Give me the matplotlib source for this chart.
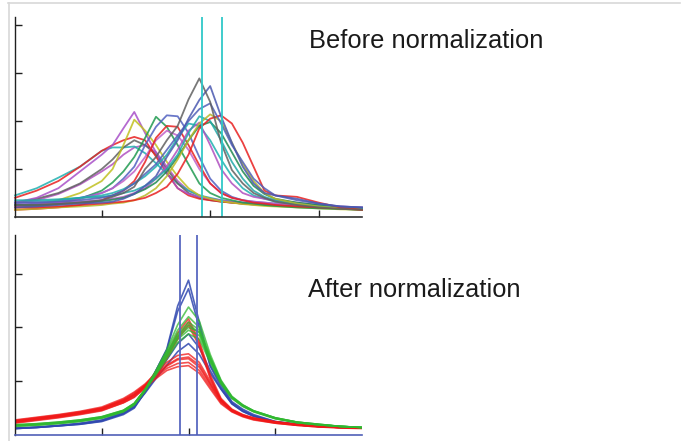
import numpy as np
import matplotlib
matplotlib.use("Agg")
import matplotlib.pyplot as plt
from matplotlib.lines import Line2D

# sample positions shared by the curves of each panel
x_top = [0, 4, 8, 12, 16, 18, 20, 22, 24, 26, 28, 30, 32, 34, 36, 38, 40, 42, 44, 46, 48, 52, 56, 60, 64]
x_bot = [0, 4, 8, 12, 16, 20, 22, 24, 26, 28, 30, 32, 34, 36, 38, 40, 42, 44, 48, 52, 56, 60, 64]

# before normalization : one curve per recording (colour, values)
before_curves = [
    ("#b050c0", [0.28, 0.35, 0.48, 0.68, 0.95, 1.1, 1.3, 1.45, 1.5, 1.35, 1.05, 0.75, 0.55, 0.45, 0.38, 0.33, 0.3, 0.28, 0.26, 0.25, 0.24, 0.22, 0.2, 0.18, 0.16]),
    ("#20b0b0", [0.45, 0.6, 0.82, 1.05, 1.38, 1.45, 1.45, 1.47, 1.33, 1.12, 0.9, 0.7, 0.55, 0.45, 0.4, 0.35, 0.32, 0.3, 0.28, 0.26, 0.25, 0.22, 0.2, 0.18, 0.17]),
    ("#606060", [0.3, 0.38, 0.5, 0.7, 1.0, 1.2, 1.45, 1.6, 1.5, 1.3, 1.0, 0.7, 0.5, 0.4, 0.35, 0.32, 0.3, 0.28, 0.26, 0.25, 0.24, 0.22, 0.2, 0.18, 0.16]),
    ("#e82020", [0.4, 0.55, 0.75, 1.05, 1.38, 1.5, 1.6, 1.67, 1.6, 1.26, 0.92, 0.6, 0.45, 0.38, 0.35, 0.32, 0.3, 0.28, 0.27, 0.26, 0.25, 0.22, 0.2, 0.18, 0.16]),
    ("#a850c8", [0.3, 0.4, 0.6, 0.95, 1.3, 1.5, 1.85, 2.19, 1.75, 1.35, 0.92, 0.6, 0.48, 0.42, 0.38, 0.35, 0.32, 0.3, 0.28, 0.27, 0.25, 0.22, 0.2, 0.18, 0.17]),
    ("#c0c020", [0.2, 0.25, 0.35, 0.5, 0.75, 1.0, 1.5, 2.03, 1.8, 1.5, 1.15, 0.85, 0.6, 0.45, 0.38, 0.33, 0.3, 0.27, 0.25, 0.23, 0.22, 0.2, 0.18, 0.16, 0.15]),
    ("#209a50", [0.2, 0.22, 0.28, 0.38, 0.55, 0.72, 0.95, 1.25, 1.65, 2.09, 1.88, 1.5, 1.1, 0.7, 0.5, 0.4, 0.35, 0.3, 0.28, 0.25, 0.23, 0.2, 0.18, 0.17, 0.15]),
    ("#5060c0", [0.25, 0.28, 0.32, 0.4, 0.5, 0.6, 0.8, 1.05, 1.5, 1.88, 2.12, 2.1, 1.75, 1.25, 0.8, 0.55, 0.42, 0.35, 0.32, 0.3, 0.28, 0.25, 0.22, 0.2, 0.18]),
    ("#c060c8", [0.22, 0.25, 0.3, 0.38, 0.5, 0.6, 0.75, 0.95, 1.25, 1.6, 1.8, 1.7, 1.4, 1.0, 0.7, 0.5, 0.4, 0.35, 0.32, 0.3, 0.28, 0.25, 0.22, 0.2, 0.18]),
    ("#e82020", [0.15, 0.17, 0.2, 0.25, 0.35, 0.45, 0.55, 0.75, 1.15, 1.65, 1.9, 1.88, 1.5, 1.08, 0.7, 0.5, 0.4, 0.35, 0.3, 0.28, 0.25, 0.22, 0.2, 0.18, 0.15]),
    ("#20b0b0", [0.3, 0.32, 0.35, 0.4, 0.45, 0.5, 0.58, 0.7, 0.85, 1.05, 1.3, 1.65, 1.95, 1.9, 1.6, 1.2, 0.85, 0.6, 0.45, 0.38, 0.32, 0.28, 0.24, 0.2, 0.18]),
    ("#b050c0", [0.3, 0.3, 0.3, 0.32, 0.35, 0.38, 0.42, 0.5, 0.6, 0.8, 1.05, 1.4, 1.8, 1.97, 1.5, 1.0, 0.7, 0.5, 0.42, 0.38, 0.35, 0.3, 0.25, 0.22, 0.2]),
    ("#208850", [0.25, 0.25, 0.27, 0.3, 0.33, 0.36, 0.4, 0.48, 0.58, 0.72, 0.95, 1.25, 1.6, 1.9, 1.98, 1.75, 1.35, 0.95, 0.65, 0.48, 0.38, 0.3, 0.25, 0.2, 0.18]),
    ("#20a8a8", [0.35, 0.35, 0.37, 0.4, 0.42, 0.45, 0.5, 0.55, 0.65, 0.8, 1.0, 1.3, 1.75, 2.1, 2.0, 1.6, 1.15, 0.8, 0.55, 0.42, 0.35, 0.28, 0.22, 0.2, 0.18]),
    ("#b8b828", [0.15, 0.17, 0.2, 0.22, 0.25, 0.28, 0.3, 0.35, 0.45, 0.6, 0.85, 1.2, 1.6, 1.95, 2.14, 2.0, 1.55, 1.1, 0.75, 0.5, 0.38, 0.28, 0.22, 0.18, 0.15]),
    ("#e82020", [0.2, 0.2, 0.22, 0.25, 0.28, 0.3, 0.32, 0.35, 0.4, 0.5, 0.63, 0.9, 1.3, 1.85, 2.05, 2.12, 1.95, 1.55, 1.05, 0.55, 0.45, 0.42, 0.3, 0.2, 0.15]),
    ("#5060b8", [0.3, 0.3, 0.32, 0.35, 0.4, 0.45, 0.55, 0.7, 0.9, 1.1, 1.4, 1.7, 2.0, 2.25, 2.37, 1.95, 1.5, 1.15, 0.8, 0.6, 0.45, 0.35, 0.28, 0.22, 0.2]),
    ("#4a58b0", [0.2, 0.22, 0.25, 0.28, 0.3, 0.32, 0.38, 0.48, 0.65, 0.85, 1.25, 1.6, 2.05, 2.44, 2.73, 2.1, 1.55, 1.05, 0.7, 0.5, 0.45, 0.38, 0.28, 0.22, 0.2]),
    ("#606060", [0.25, 0.25, 0.27, 0.3, 0.35, 0.42, 0.5, 0.63, 1.0, 1.25, 1.6, 1.9, 2.45, 2.89, 2.4, 1.55, 0.98, 0.7, 0.5, 0.4, 0.32, 0.25, 0.2, 0.17, 0.15]),
]

# after normalization, grouped by colour
after_blue = [
    [0.12, 0.14, 0.17, 0.2, 0.25, 0.38, 0.5, 0.8, 1.2, 1.6, 2.4, 2.88, 2.1, 1.3, 0.95, 0.62, 0.48, 0.38, 0.25, 0.2, 0.17, 0.15, 0.13],
    [0.12, 0.14, 0.17, 0.2, 0.26, 0.4, 0.52, 0.82, 1.2, 1.58, 2.3, 2.72, 2.0, 1.28, 0.9, 0.6, 0.46, 0.36, 0.25, 0.2, 0.17, 0.15, 0.13],
    [0.12, 0.14, 0.17, 0.21, 0.27, 0.4, 0.52, 0.8, 1.08, 1.4, 1.7, 1.88, 1.62, 1.2, 0.86, 0.58, 0.44, 0.35, 0.24, 0.19, 0.16, 0.14, 0.13],
    [0.13, 0.15, 0.18, 0.22, 0.28, 0.42, 0.54, 0.78, 1.05, 1.3, 1.55, 1.7, 1.5, 1.15, 0.85, 0.58, 0.44, 0.35, 0.24, 0.19, 0.16, 0.14, 0.13],
]
after_red = [
    [0.27, 0.32, 0.37, 0.43, 0.5, 0.64, 0.75, 0.92, 1.18, 1.5, 1.9, 2.16, 1.75, 1.12, 0.68, 0.48, 0.38, 0.32, 0.25, 0.2, 0.17, 0.15, 0.13],
    [0.25, 0.3, 0.35, 0.41, 0.48, 0.62, 0.73, 0.9, 1.15, 1.45, 1.82, 2.1, 1.7, 1.08, 0.65, 0.46, 0.37, 0.31, 0.24, 0.2, 0.17, 0.15, 0.13],
    [0.23, 0.28, 0.33, 0.39, 0.46, 0.6, 0.7, 0.88, 1.12, 1.42, 1.78, 2.04, 1.65, 1.05, 0.64, 0.45, 0.36, 0.3, 0.24, 0.19, 0.16, 0.14, 0.13],
    [0.28, 0.33, 0.38, 0.44, 0.52, 0.68, 0.8, 0.95, 1.15, 1.35, 1.48, 1.51, 1.35, 1.0, 0.66, 0.47, 0.37, 0.31, 0.24, 0.19, 0.16, 0.14, 0.13],
    [0.26, 0.31, 0.36, 0.42, 0.5, 0.66, 0.78, 0.93, 1.12, 1.3, 1.42, 1.45, 1.3, 0.96, 0.64, 0.46, 0.36, 0.3, 0.23, 0.19, 0.16, 0.14, 0.13],
    [0.25, 0.3, 0.35, 0.41, 0.49, 0.65, 0.76, 0.92, 1.1, 1.28, 1.4, 1.42, 1.26, 0.94, 0.62, 0.45, 0.36, 0.3, 0.23, 0.19, 0.16, 0.14, 0.13],
    [0.24, 0.29, 0.34, 0.4, 0.47, 0.63, 0.74, 0.9, 1.08, 1.24, 1.33, 1.35, 1.2, 0.9, 0.6, 0.44, 0.35, 0.29, 0.22, 0.18, 0.15, 0.14, 0.13],
    [0.22, 0.27, 0.32, 0.38, 0.45, 0.6, 0.71, 0.88, 1.05, 1.2, 1.27, 1.29, 1.15, 0.86, 0.58, 0.43, 0.34, 0.28, 0.22, 0.18, 0.15, 0.13, 0.12],
]
after_green = [
    [0.18, 0.2, 0.23, 0.27, 0.33, 0.45, 0.58, 0.85, 1.2, 1.58, 2.05, 2.38, 2.12, 1.5, 1.02, 0.72, 0.56, 0.45, 0.32, 0.24, 0.2, 0.16, 0.14],
    [0.17, 0.19, 0.22, 0.26, 0.32, 0.44, 0.57, 0.84, 1.18, 1.55, 1.95, 2.2, 2.0, 1.45, 1.0, 0.7, 0.55, 0.44, 0.31, 0.24, 0.19, 0.16, 0.14],
    [0.19, 0.21, 0.24, 0.28, 0.34, 0.46, 0.59, 0.85, 1.17, 1.52, 1.88, 2.1, 1.95, 1.42, 0.98, 0.7, 0.55, 0.45, 0.32, 0.24, 0.2, 0.16, 0.14],
    [0.16, 0.18, 0.21, 0.25, 0.31, 0.43, 0.56, 0.82, 1.15, 1.5, 1.85, 2.05, 1.9, 1.4, 0.97, 0.69, 0.54, 0.44, 0.31, 0.23, 0.19, 0.16, 0.14],
    [0.18, 0.2, 0.23, 0.27, 0.33, 0.45, 0.58, 0.84, 1.14, 1.46, 1.78, 1.95, 1.85, 1.38, 0.96, 0.69, 0.54, 0.44, 0.31, 0.23, 0.19, 0.16, 0.14],
    [0.17, 0.19, 0.22, 0.26, 0.32, 0.44, 0.57, 0.83, 1.12, 1.42, 1.72, 1.88, 1.78, 1.35, 0.95, 0.68, 0.53, 0.43, 0.3, 0.23, 0.19, 0.16, 0.14],
    [0.19, 0.21, 0.24, 0.28, 0.34, 0.46, 0.59, 0.85, 1.15, 1.48, 1.82, 2.0, 1.92, 1.44, 1.0, 0.71, 0.56, 0.45, 0.32, 0.24, 0.2, 0.16, 0.14],
]

before_marks = [34.4, 38.1]   # cyan vertical lines
after_marks = [30.4, 33.5]    # blue vertical lines

fig = plt.figure(figsize=(6.94, 4.41), dpi=100)


def style(ax, ymax, bottom_color):
    ax.set_xlim(0, 64)
    ax.set_ylim(0, ymax)
    for s in ("top", "right"):
        ax.spines[s].set_visible(False)
    ax.spines["left"].set_color("#202020")
    ax.spines["left"].set_linewidth(1.0)
    ax.spines["bottom"].set_color(bottom_color)
    ax.spines["bottom"].set_linewidth(1.2)
    ax.tick_params(direction="in", length=5, width=1.0, color="#202020",
                   labelleft=False, labelbottom=False)
    ax.patch.set_alpha(0)


ax1 = fig.add_axes([15 / 694, 1 - 217 / 441, 347 / 694, 200 / 441])
for col, vals in before_curves:
    ax1.plot(x_top, vals, color=col, lw=1.3, alpha=0.85, clip_on=False)
for xm in before_marks:
    ax1.axvline(xm, color="#30c8c8", lw=1.3)
style(ax1, 4.17, "#303030")
ax1.set_xticks([16, 36, 56])
ax1.set_yticks([1, 2, 3, 4])

ax2 = fig.add_axes([15 / 694, 1 - 435 / 441, 347 / 694, 200 / 441])
for vals in after_blue:
    ax2.plot(x_bot, vals, color="#3048b0", lw=1.2, alpha=0.85)
for vals in after_red:
    ax2.plot(x_bot, vals, color="#f01818", lw=1.2, alpha=0.75)
for vals in after_green:
    ax2.plot(x_bot, vals, color="#30b830", lw=1.2, alpha=0.75)
for xm in after_marks:
    ax2.axvline(xm, color="#5868c0", lw=1.3)
style(ax2, 3.72, "#5060b8")
ax2.set_xticks([16, 32, 48])
ax2.set_yticks([1, 2, 3])

fig.text(309 / 694, 1 - 48 / 441, "Before normalization", fontsize=18.4,
         family="Liberation Sans", color="#1a1a1a", va="baseline")
fig.text(308 / 694, 1 - 297 / 441, "After normalization", fontsize=18.3,
         family="Liberation Sans", color="#1a1a1a", va="baseline")

# light frame on the top and left edges
fig.add_artist(Line2D([8 / 694, 680 / 694], [1 - 2.5 / 441, 1 - 2.5 / 441],
                      transform=fig.transFigure, color="#d8d8d8", lw=1.2))
fig.add_artist(Line2D([9 / 694, 9 / 694], [1 - 2.5 / 441, 0],
                      transform=fig.transFigure, color="#d8d8d8", lw=1.2))

fig.savefig("out.png", dpi=100)
